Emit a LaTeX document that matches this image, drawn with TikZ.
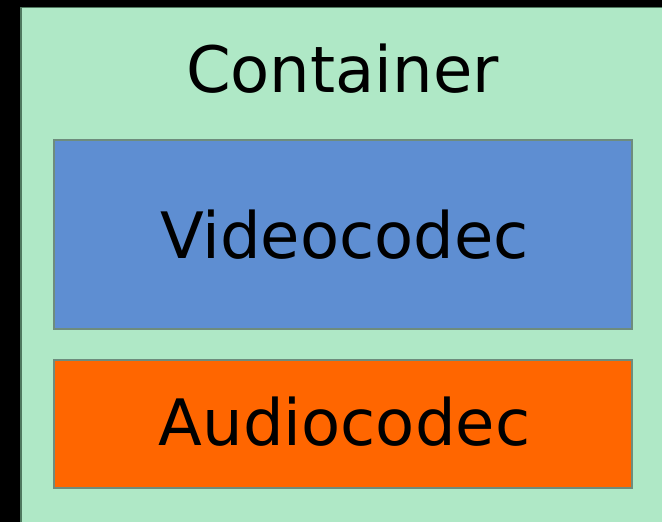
\documentclass[tikz,border=0pt]{standalone}
\usepackage{fontspec}
\setmainfont{DejaVu Sans}
\usepackage{xcolor}
\usepackage{tikz}
\usetikzlibrary{positioning}

\definecolor{contgreen}{RGB}{175,232,198}
\definecolor{contedge}{RGB}{80,120,95}
\definecolor{videoblue}{RGB}{94,142,210}
\definecolor{audioorange}{RGB}{255,102,0}
\definecolor{boxedge}{RGB}{110,140,125}

\tikzset{
	codec/.style={draw=boxedge, line width=1.2pt, minimum width=578pt, inner sep=0pt},
	lbl/.style={font=\fontsize{64}{76}\selectfont, anchor=base, inner sep=0pt}
}

\begin{document}
\begin{tikzpicture}[x=1pt,y=-1pt]
			\useasboundingbox (0,0) rectangle (662,522);
			\clip (0,0) rectangle (662,522);
			\fill[black] (0,0) rectangle (662,522);
			
			\draw[fill=contgreen, draw=contedge, line width=1.5pt] (21,7.5) rectangle (680,540);
			
			\node[codec, fill=videoblue, minimum height=189pt] (video) at (343,234.5) {};
			\node[codec, fill=audioorange, minimum height=128pt] (audio) at (343,424) {};
			
			\node[lbl] (contlbl) at (342.5,92) {Container};
			\node[lbl] (videolbl) at (344.5,258) {Videocodec};
			\node[lbl] (audiolbl) at (344.5,445) {Audiocodec};
		\end{tikzpicture}
\end{document}
